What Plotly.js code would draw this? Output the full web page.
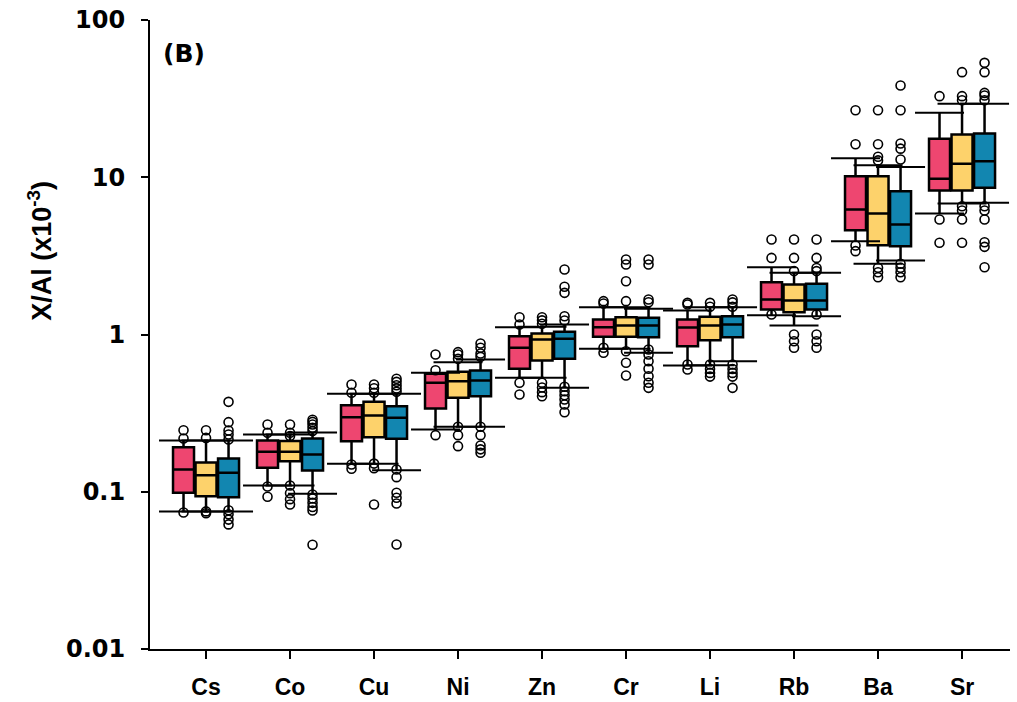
<!DOCTYPE html>
<html>
<head>
<meta charset="utf-8">
<script src="https://cdn.plot.ly/plotly-3.0.1.min.js"></script>
<style>
  html, body { margin: 0; padding: 0; background: #ffffff; }
  #chart { width: 1017px; height: 702px; }
</style>
</head>
<body>
<div id="chart"></div>
<script>
// Element ratios to aluminium (x10^-3), three sample groups per element
const elements = ['Cs', 'Co', 'Cu', 'Ni', 'Zn', 'Cr', 'Li', 'Rb', 'Ba', 'Sr'];
const yTickValues = [0.01, 0.1, 1, 10, 100];
const yTickLabels = ['0.01', '0.1', '1', '10', '100'];

// Group A (red)
const groupA_q1     = [0.0985, 0.142, 0.2097, 0.338, 0.605, 0.967, 0.843, 1.442, 4.61, 8.24];
const groupA_median = [0.1386, 0.1795, 0.298, 0.493, 0.823, 1.113, 1.108, 1.67, 6.24, 9.78];
const groupA_q3     = [0.192, 0.212, 0.355, 0.5625, 0.975, 1.246, 1.246, 2.15, 10.16, 17.6];
const groupA_low    = [0.0749, 0.1096, 0.1506, 0.249, 0.531, 0.811, 0.635, 1.327, 3.92, 5.88];
const groupA_high   = [0.212, 0.231, 0.42, 0.571, 1.113, 1.49, 1.42, 2.68, 13.2, 25.7];
const groupA_outliers = [
  [0.246, 0.218, 0.0738],
  [0.268, 0.237, 0.108, 0.0929],
  [0.481, 0.426, 0.149, 0.140],
  [0.746, 0.593, 0.229],
  [1.288, 1.158, 0.493, 0.415],
  [1.63, 1.575, 0.823, 0.765],
  [1.59, 1.55, 0.645, 0.599],
  [4.02, 3.07, 1.34],
  [26.7, 16.2, 3.68, 3.39],
  [32.8, 5.39, 3.83]
];

// Group B (yellow)
const groupB_q1     = [0.0937, 0.1564, 0.222, 0.396, 0.684, 0.967, 0.92, 1.386, 3.70, 8.24];
const groupB_median = [0.1274, 0.1795, 0.3055, 0.505, 0.929, 1.14, 1.14, 1.645, 5.88, 12.2];
const groupB_q3     = [0.1535, 0.21, 0.373, 0.579, 1.015, 1.288, 1.296, 2.08, 10.16, 18.7];
const groupB_low    = [0.0749, 0.1096, 0.1506, 0.259, 0.531, 0.811, 0.638, 1.14, 2.82, 6.81];
const groupB_high   = [0.212, 0.231, 0.42, 0.667, 1.12, 1.49, 1.49, 2.47, 11.9, 29.3];
const groupB_outliers = [
  [0.246, 0.22, 0.075, 0.073],
  [0.268, 0.237, 0.226, 0.1096, 0.098, 0.0897, 0.083],
  [0.481, 0.455, 0.426, 0.151, 0.141, 0.083],
  [0.772, 0.746, 0.70, 0.259, 0.229, 0.195],
  [1.288, 1.23, 1.17, 0.493, 0.46, 0.43, 0.405],
  [3.0, 2.79, 2.18, 1.63, 0.783, 0.661, 0.549],
  [1.59, 1.50, 0.645, 0.603, 0.57, 0.54],
  [4.02, 3.07, 2.53, 1.0, 0.906, 0.823],
  [26.7, 16.2, 13.5, 12.8, 2.66, 2.49, 2.31],
  [46.6, 32.8, 30.9, 6.54, 6.15, 5.39, 3.83]
];

// Group C (blue)
const groupC_q1     = [0.0923, 0.1365, 0.217, 0.405, 0.70, 0.961, 0.961, 1.442, 3.64, 8.57];
const groupC_median = [0.132, 0.1726, 0.295, 0.51, 0.939, 1.14, 1.158, 1.645, 5.01, 12.65];
const groupC_q3     = [0.1627, 0.218, 0.35, 0.59, 1.04, 1.277, 1.307, 2.10, 8.15, 19.0];
const groupC_low    = [0.075, 0.097, 0.137, 0.259, 0.458, 0.765, 0.676, 1.307, 2.96, 6.88];
const groupC_high   = [0.212, 0.238, 0.42, 0.694, 1.158, 1.456, 1.49, 2.47, 11.6, 29.3];
const groupC_outliers = [
  [0.373, 0.277, 0.245, 0.231, 0.215, 0.0762, 0.072, 0.0665, 0.062],
  [0.287, 0.278, 0.268, 0.255, 0.243, 0.096, 0.0905, 0.085, 0.080, 0.076, 0.046],
  [0.523, 0.50, 0.476, 0.454, 0.432, 0.1384, 0.1238, 0.0985, 0.0916, 0.0842, 0.0462],
  [0.877, 0.823, 0.757, 0.721, 0.259, 0.229, 0.197, 0.186, 0.177],
  [2.59, 2.01, 1.84, 1.307, 1.228, 0.465, 0.436, 0.411, 0.386, 0.359, 0.32],
  [3.0, 2.79, 1.67, 1.605, 0.803, 0.746, 0.676, 0.605, 0.543, 0.493, 0.458],
  [1.67, 1.6, 1.5, 0.645, 0.603, 0.57, 0.54, 0.458],
  [4.02, 3.07, 2.65, 2.53, 1.34, 1.0, 0.906, 0.823],
  [38.3, 26.7, 16.4, 15.2, 12.97, 2.82, 2.66, 2.49, 2.31],
  [53.4, 46.6, 34.4, 33.1, 30.9, 6.54, 6.15, 5.39, 3.86, 3.61, 2.68]
];

const groups = [
  { q1: groupA_q1, med: groupA_median, q3: groupA_q3, lo: groupA_low, hi: groupA_high, out: groupA_outliers, fill: '#EE4670', shift: -0.268 },
  { q1: groupB_q1, med: groupB_median, q3: groupB_q3, lo: groupB_low, hi: groupB_high, out: groupB_outliers, fill: '#FDD26B', shift: 0 },
  { q1: groupC_q1, med: groupC_median, q3: groupC_q3, lo: groupC_low, hi: groupC_high, out: groupC_outliers, fill: '#1286B0', shift: 0.268 }
];

const traces = [];
const capTraces = [];
const pointTraces = [];

groups.forEach(g => {
  const xs = elements.map((_, i) => i + g.shift);

  // box body, median and whiskers
  traces.push({
    type: 'box',
    x: xs,
    q1: g.q1,
    median: g.med,
    q3: g.q3,
    lowerfence: g.lo,
    upperfence: g.hi,
    width: 0.25,
    whiskerwidth: 0,
    boxpoints: false,
    fillcolor: g.fill,
    line: { color: '#000000', width: 2.5 },
    hoverinfo: 'skip',
    showlegend: false
  });

  // wide whisker caps
  capTraces.push({
    type: 'scatter',
    mode: 'markers',
    x: xs.concat(xs),
    y: g.lo.concat(g.hi),
    marker: { symbol: 'line-ew', size: 35, line: { color: '#000000', width: 2 } },
    hoverinfo: 'skip',
    showlegend: false,
    cliponaxis: false
  });

  // points beyond the caps
  const px = [], py = [];
  g.out.forEach((vals, i) => {
    vals.forEach(v => { px.push(i + g.shift); py.push(v); });
  });
  pointTraces.push({
    type: 'scatter',
    mode: 'markers',
    x: px,
    y: py,
    marker: { symbol: 'circle-open', size: 9, color: '#000000', line: { color: '#000000', width: 1.6 } },
    hoverinfo: 'skip',
    showlegend: false,
    cliponaxis: false
  });
});

const boldArial = { family: 'Liberation Sans, Arial, sans-serif', color: '#000000', weight: 700 };
const boldWide = { family: 'DejaVu Sans, sans-serif', color: '#000000', weight: 700 };

const layout = {
  width: 1017,
  height: 702,
  margin: { l: 150, r: 7, t: 20, b: 53 },
  paper_bgcolor: '#ffffff',
  plot_bgcolor: '#ffffff',
  showlegend: false,
  hovermode: false,
  boxmode: 'overlay',
  xaxis: {
    range: [-0.667, 9.571],
    tickvals: elements.map((_, i) => i),
    ticktext: elements,
    tickfont: Object.assign({ size: 23 }, boldArial),
    ticks: 'outside',
    ticklen: 8,
    tickwidth: 2,
    tickcolor: '#000000',
    ticklabelstandoff: 8,
    showline: true,
    linecolor: '#000000',
    linewidth: 2,
    showgrid: false,
    zeroline: false
  },
  yaxis: {
    type: 'log',
    range: [-2, 2],
    tickvals: yTickValues,
    ticktext: yTickLabels,
    tickfont: Object.assign({ size: 24 }, boldWide),
    ticks: 'outside',
    ticklen: 7,
    tickwidth: 2,
    tickcolor: '#000000',
    ticklabelstandoff: 11,
    showline: true,
    linecolor: '#000000',
    linewidth: 2,
    showgrid: false,
    zeroline: false
  },
  annotations: [
    {
      text: 'X/Al (x10<sup>-3</sup>)',
      xref: 'paper', yref: 'paper',
      x: -0.128, y: 0.633,
      xanchor: 'center', yanchor: 'middle',
      textangle: -90,
      showarrow: false,
      font: Object.assign({ size: 27 }, boldArial)
    },
    {
      text: '(B)',
      xref: 'paper', yref: 'paper',
      x: 0.013, y: 0.9475,
      xanchor: 'left', yanchor: 'middle',
      showarrow: false,
      font: Object.assign({ size: 25 }, boldWide)
    }
  ]
};

Plotly.newPlot('chart', traces.concat(capTraces, pointTraces), layout, { staticPlot: true, displayModeBar: false });
</script>
</body>
</html>
